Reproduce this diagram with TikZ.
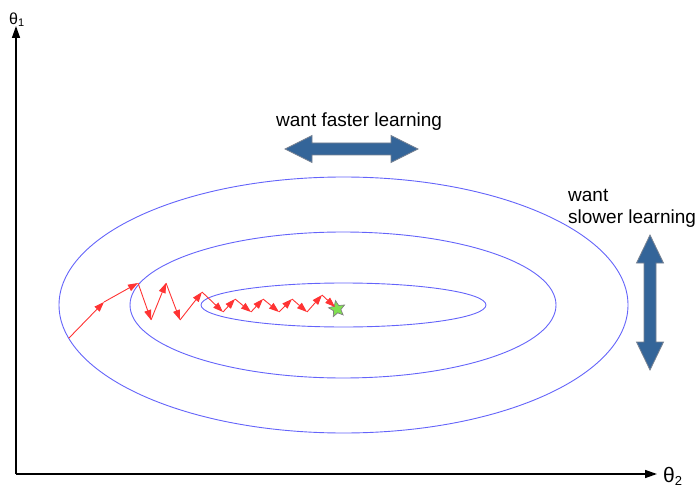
\documentclass[tikz,border=0pt]{standalone}
\usepackage{fontspec}
\setmainfont{Liberation Sans}
\usetikzlibrary{arrows.meta,shapes.geometric}
\definecolor{contour}{RGB}{100,100,250}
\definecolor{steprd}{RGB}{255,51,51}
\definecolor{bigarrow}{RGB}{52,101,153}
\definecolor{bigedge}{RGB}{120,130,145}
\definecolor{stargreen}{RGB}{128,224,80}
\begin{document}
\begin{tikzpicture}[x=1pt,y=-1pt,
  contourline/.style={ellipse,draw=contour,line width=0.9pt,inner sep=0pt},
  stepline/.style={draw=steprd,line width=0.9pt,-{Triangle[length=10pt,width=7pt]}},
  axisline/.style={draw=black,line width=1.5pt,-{Triangle[length=12pt,width=8pt]}},
  bigarr/.style={fill=bigarrow,draw=bigedge,line width=0.8pt},
  lbl/.style={font=\fontsize{19}{22}\selectfont,inner sep=0pt,anchor=base west},
]
\useasboundingbox (0,0) rectangle (698,489);

% axes
\coordinate (O) at (16,474);
\coordinate (ytop) at (16,26);
\coordinate (xend) at (657,474);
\draw[axisline] (O) -- (ytop);
\draw[axisline] (O) -- (xend);
\node[inner sep=0pt,anchor=base west,font=\fontsize{16}{16}\selectfont] (t1) at (9,25) {θ\raisebox{-2pt}{\fontsize{11}{11}\selectfont 1}};
\node[inner sep=0pt,anchor=base west,font=\fontsize{21}{21}\selectfont] (t2) at (663,482) {θ\raisebox{-3.5pt}{\fontsize{13}{13}\selectfont 2}};

% contours
\node[contourline,minimum width=569pt,minimum height=256pt] (outer) at (343.5,305) {};
\node[contourline,minimum width=426pt,minimum height=146pt] (middle) at (343,305) {};
\node[contourline,minimum width=285pt,minimum height=44pt] (inner) at (343.5,305) {};

% goal star
\node[star,star points=5,star point ratio=2.2,minimum size=17pt,inner sep=0pt,
      fill=stargreen,draw=gray,line width=0.7pt,rotate=10] (goal) at (337,309) {};

% gradient descent steps
\coordinate (p0) at (69,338);
\coordinate (p1) at (104,302);
\coordinate (p2) at (138,283);
\coordinate (p3) at (151,320);
\coordinate (p4) at (166,283);
\coordinate (p5) at (180,320);
\coordinate (p6) at (202,292);
\coordinate (p7) at (223,312);
\coordinate (p8) at (235,299);
\coordinate (p9) at (251,312);
\coordinate (p10) at (263,299);
\coordinate (p11) at (279,312);
\coordinate (p12) at (292,299);
\coordinate (p13) at (307,312);
\coordinate (p14) at (322,295);
\coordinate (p15) at (335,307);
\foreach \a/\b in {p0/p1,p1/p2,p2/p3,p3/p4,p4/p5,p5/p6,p6/p7,p7/p8,p8/p9,p9/p10,p10/p11,p11/p12,p12/p13,p13/p14,p14/p15}
  \draw[stepline] (\a) -- (\b);

% big arrows
\draw[bigarr] (285,149) -- (312,135.5) -- (312,143) -- (391,143) -- (391,135.5) -- (418,149)
  -- (391,162.5) -- (391,155) -- (312,155) -- (312,162.5) -- cycle;
\draw[bigarr] (650,235) -- (663.5,263) -- (656,263) -- (656,342) -- (663.5,342) -- (650,370)
  -- (636.5,342) -- (644,342) -- (644,263) -- (636.5,263) -- cycle;

% labels
\node[lbl] (fast) at (276,127) {want faster learning};
\node[lbl] (want) at (568,201) {want};
\node[lbl] (slow) at (568,223) {slower learning};
\end{tikzpicture}
\end{document}
